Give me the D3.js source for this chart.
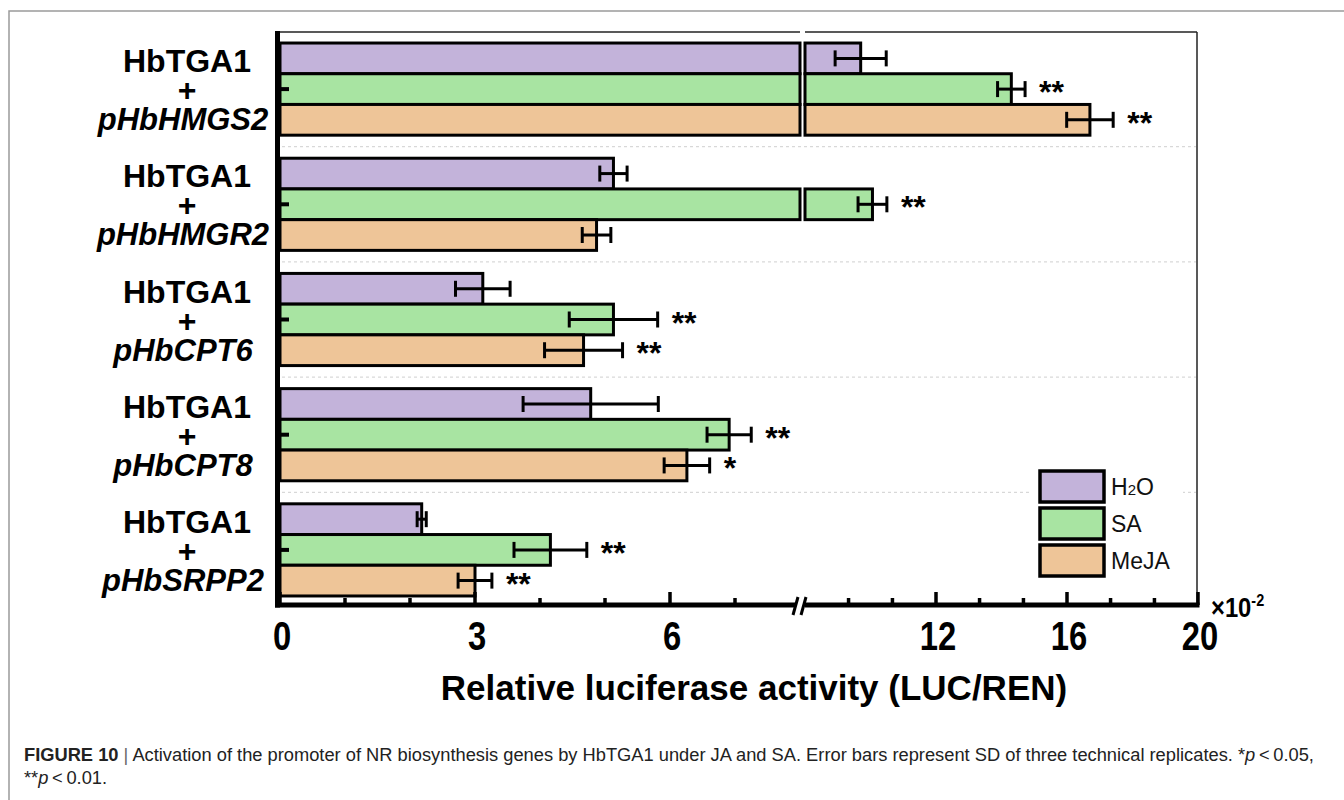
<!DOCTYPE html>
<html><head><meta charset="utf-8">
<script src="https://cdn.jsdelivr.net/npm/d3@7"></script>
<style>
html,body{margin:0;padding:0;background:#fff;}
svg{display:block;font-family:"Liberation Sans",Arial,Helvetica,sans-serif;}
</style></head>
<body><svg id="c" width="1344" height="800"></svg>
<script>
// ---- data ----
const categories = ["pHbHMGS2","pHbHMGR2","pHbCPT6","pHbCPT8","pHbSRPP2"];
const seriesNames = ["H2O","SA","MeJA"];
const h2oValues = [9.7, 5.13, 3.12, 4.78, 2.18];
const h2oErrors = [0.78, 0.21, 0.42, 1.04, 0.07];
const saValues = [14.3, 10.06, 5.13, 6.91, 4.16];
const saErrors = [0.42, 0.44, 0.68, 0.34, 0.56];
const mejaValues = [16.7, 4.87, 4.67, 6.26, 3.0];
const mejaErrors = [0.71, 0.22, 0.60, 0.35, 0.26];
const h2oSig = ["","","","",""];
const saSig = ["**","**","**","**","**"];
const mejaSig = ["**","","**","*","**"];
const majorTicks = [0,3,6,12,16,20];
const majorTickLabels = ["0","3","6","12","16","20"];
const minorTicks = [1,2,4,5,7,9.33,10.67,13.33,14.67,17.33,18.67];
const breakAt = 8;
const xTitle = "Relative luciferase activity (LUC/REN)";

const colors = {H2O:"#c3b3da", SA:"#a8e4a2", MeJA:"#eec598"};
const seriesData = {
  H2O:{v:h2oValues,e:h2oErrors,s:h2oSig},
  SA:{v:saValues,e:saErrors,s:saSig},
  MeJA:{v:mejaValues,e:mejaErrors,s:mejaSig}
};

const svg = d3.select("#c");

// outer frame
svg.append("path").attr("d","M9,800 V11 H1344").attr("fill","none").attr("stroke","#9a9a9a").attr("stroke-width",1.5);

// scales
const xL = d3.scaleLinear().domain([0,breakAt]).range([280,800]);
const xR = d3.scaleLinear().domain([breakAt,20]).range([805,1198]);
const x = v => v<=breakAt ? xL(v) : xR(v);
const y = d3.scaleBand().domain(categories).range([31.5,607.5]).paddingInner(0.2).paddingOuter(0.1);
const yi = d3.scaleBand().domain(seriesNames).range([0,y.bandwidth()]);
const axisY = 605;

// dashed separators
const seps = categories.slice(1).map(c => y(c) - y.step()*y.paddingInner()/2);
svg.append("g").selectAll("line").data(seps).join("line")
  .attr("x1",282).attr("x2",1196).attr("y1",d=>d).attr("y2",d=>d)
  .attr("stroke","#cfcfcf").attr("stroke-width",1).attr("stroke-dasharray","3,3");

// bars
const rows = [];
categories.forEach((c,i)=>{
  seriesNames.forEach(s=>{
    rows.push({cat:c, ser:s, v:seriesData[s].v[i], e:seriesData[s].e[i], sig:seriesData[s].s[i]});
  });
});
const gBars = svg.append("g");
rows.forEach(r=>{
  const yy = y(r.cat)+yi(r.ser);
  const h = yi.bandwidth();
  if (r.v > breakAt){
    gBars.append("rect").attr("x",xL(0)).attr("y",yy).attr("width",xL(breakAt)-xL(0)).attr("height",h)
      .attr("fill",colors[r.ser]).attr("stroke","#000").attr("stroke-width",3);
    gBars.append("rect").attr("x",xR(breakAt)).attr("y",yy).attr("width",xR(r.v)-xR(breakAt)).attr("height",h)
      .attr("fill",colors[r.ser]).attr("stroke","#000").attr("stroke-width",3);
  } else {
    gBars.append("rect").attr("x",xL(0)).attr("y",yy).attr("width",xL(r.v)-xL(0)).attr("height",h)
      .attr("fill",colors[r.ser]).attr("stroke","#000").attr("stroke-width",3);
  }
});

// error bars
const gErr = svg.append("g").attr("stroke","#000").attr("stroke-width",3);
rows.forEach(r=>{
  const cy = y(r.cat)+yi(r.ser)+yi.bandwidth()/2;
  const a = x(r.v-r.e), b = x(r.v+r.e);
  gErr.append("line").attr("x1",a).attr("x2",b).attr("y1",cy).attr("y2",cy);
  gErr.append("line").attr("x1",a).attr("x2",a).attr("y1",cy-8).attr("y2",cy+8);
  gErr.append("line").attr("x1",b).attr("x2",b).attr("y1",cy-8).attr("y2",cy+8);
  if (r.sig){
    svg.append("text").attr("x",b+14).attr("y",cy+14).attr("font-size",32).attr("font-weight","bold")
      .attr("fill","#000").text(r.sig);
  }
});

// frame: top & right
svg.append("line").attr("x1",279).attr("x2",800).attr("y1",32).attr("y2",32).attr("stroke","#222").attr("stroke-width",1.5);
svg.append("line").attr("x1",805).attr("x2",1197).attr("y1",32).attr("y2",32).attr("stroke","#222").attr("stroke-width",1.5);
svg.append("line").attr("x1",1197).attr("x2",1197).attr("y1",32).attr("y2",axisY).attr("stroke","#222").attr("stroke-width",1.5);

// left axis
svg.append("line").attr("x1",277.5).attr("x2",277.5).attr("y1",31).attr("y2",axisY+2.5).attr("stroke","#000").attr("stroke-width",5);
// y ticks (at group centres)
svg.append("g").selectAll("line").data(categories).join("line")
  .attr("x1",278).attr("x2",289).attr("y1",d=>y(d)+y.bandwidth()/2).attr("y2",d=>y(d)+y.bandwidth()/2)
  .attr("stroke","#000").attr("stroke-width",4);

// bottom axis segments
svg.append("line").attr("x1",275).attr("x2",796).attr("y1",axisY).attr("y2",axisY).attr("stroke","#000").attr("stroke-width",5);
svg.append("line").attr("x1",805).attr("x2",1199.5).attr("y1",axisY).attr("y2",axisY).attr("stroke","#000").attr("stroke-width",5);
// break marks
svg.append("line").attr("x1",793).attr("y1",615).attr("x2",798).attr("y2",597).attr("stroke","#000").attr("stroke-width",3);
svg.append("line").attr("x1",801).attr("y1",615).attr("x2",806).attr("y2",597).attr("stroke","#000").attr("stroke-width",3);

// ticks
svg.append("g").selectAll("line").data(majorTicks).join("line")
  .attr("x1",d=>x(d)).attr("x2",d=>x(d)).attr("y1",axisY).attr("y2",axisY-13)
  .attr("stroke","#000").attr("stroke-width",3.5);
svg.append("g").selectAll("line").data(minorTicks).join("line")
  .attr("x1",d=>x(d)).attr("x2",d=>x(d)).attr("y1",axisY).attr("y2",axisY-7)
  .attr("stroke","#000").attr("stroke-width",3.5);
// tick labels
svg.append("g").selectAll("text").data(majorTicks).join("text")
  .attr("transform",d=>`translate(${x(d)+2},650) scale(0.82,1)`)
  .attr("text-anchor","middle").attr("font-size",40).attr("font-weight","bold").attr("fill","#000")
  .text((d,i)=>majorTickLabels[i]);
// x10^-2
const mult = svg.append("text").attr("transform","translate(1211,617) scale(0.85,1)").attr("font-weight","bold").attr("fill","#000");
mult.append("tspan").attr("font-size",28).text("×10");
mult.append("tspan").attr("font-size",17).attr("dy",-11).text("-2");

// x title
svg.append("text").attr("x",754).attr("y",700).attr("text-anchor","middle").attr("font-size",35)
  .attr("font-weight","bold").attr("fill","#000").text(xTitle);

// category labels (one text element, three lines)
const gLab = svg.append("g").attr("font-weight","bold").attr("fill","#000").attr("font-size",32).attr("text-anchor","middle");
categories.forEach(c=>{
  const cy = y(c)+y.bandwidth()/2;
  const t = gLab.append("text").attr("x",187).attr("y",cy-17);
  t.append("tspan").attr("x",187).attr("y",cy-17).text("HbTGA1");
  t.append("tspan").attr("x",187).attr("y",cy+12).text("+");
  t.append("tspan").attr("x",183).attr("y",cy+41).attr("font-style","italic").attr("font-size",31).text(c);
});

// legend
const lg = svg.append("g");
lg.append("rect").attr("x",1030).attr("y",462).attr("width",153).attr("height",124).attr("fill","#fff");
seriesNames.forEach((s,i)=>{
  const yy = 471 + i*37;
  lg.append("rect").attr("x",1040).attr("y",yy).attr("width",64).attr("height",31)
    .attr("fill",colors[s]).attr("stroke","#000").attr("stroke-width",3.5);
  const t = lg.append("text").attr("x",1111).attr("y",yy+24).attr("font-size",23).attr("fill","#111");
  if (s==="H2O"){
    t.append("tspan").text("H");
    t.append("tspan").attr("font-size",15).text("2");
    t.append("tspan").text("O");
  } else t.text(s);
});

// caption
const cap1 = svg.append("text").attr("x",24).attr("y",761).attr("font-size",18.3).attr("fill","#222");
cap1.append("tspan").attr("font-weight","bold").text("FIGURE 10");
cap1.append("tspan").attr("fill","#666").text("  |  ");
cap1.append("tspan").text("Activation of the promoter of NR biosynthesis genes by HbTGA1 under JA and SA. Error bars represent SD of three technical replicates. *");
cap1.append("tspan").attr("font-style","italic").text("p");
cap1.append("tspan").text("\u2009<\u20090.05,");
const cap2 = svg.append("text").attr("x",24).attr("y",784).attr("font-size",18.3).attr("fill","#222");
cap2.append("tspan").text("**");
cap2.append("tspan").attr("font-style","italic").text("p");
cap2.append("tspan").text("\u2009<\u20090.01.");
</script></body></html>
